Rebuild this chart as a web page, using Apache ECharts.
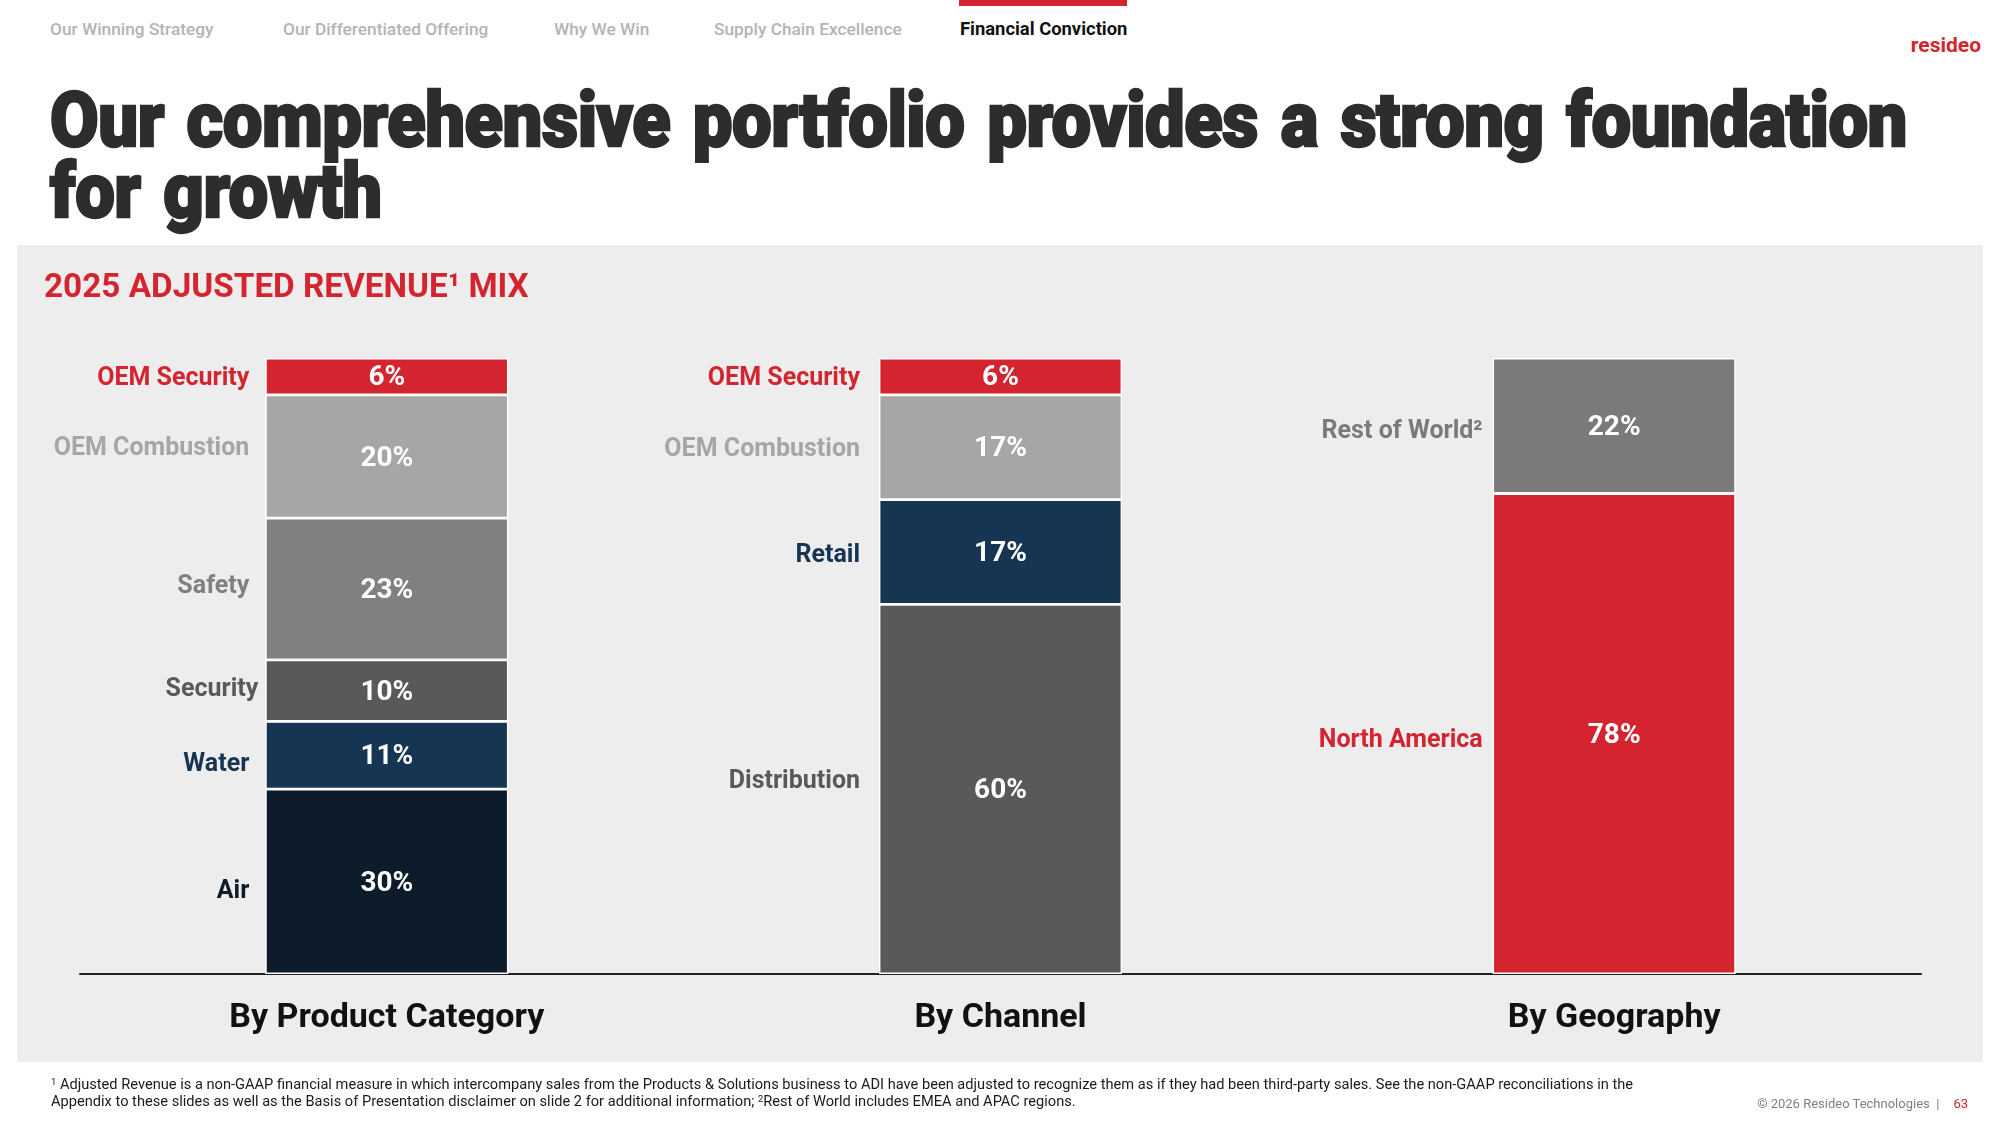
<!DOCTYPE html>
<html>
<head>
<meta charset="utf-8">
<script src="https://cdn.jsdelivr.net/npm/echarts@6/dist/echarts.min.js"></script>
<style>
html,body{margin:0;padding:0;background:#fff;}
body{width:2000px;height:1125px;position:relative;overflow:hidden;font-family:Roboto,"Noto Sans",sans-serif;}
.nav{position:absolute;top:18px;font-size:17.3px;line-height:22px;font-weight:500;color:#b4b4b4;white-space:nowrap;}
.nav.active{color:#111;font-weight:700;font-size:18.4px;top:18px;}
#navbar{position:absolute;left:959px;top:0;width:168px;height:6px;background:#D3242F;}
#logo{position:absolute;right:19px;top:33px;font-size:21px;line-height:24px;font-weight:700;color:#D3242F;}
#title{position:absolute;left:50px;top:85px;font-size:76px;line-height:71px;font-weight:900;color:#2d2d2d;letter-spacing:-0.5px;word-spacing:6px;transform-origin:0 0;white-space:nowrap;-webkit-text-stroke:2.4px #2d2d2d;}
#title span{display:inline-block;}
#panel{position:absolute;left:17px;top:245px;width:1966px;height:817px;background:#EDEDED;}
#chart{position:absolute;left:0;top:0;width:2000px;height:1125px;}
.fn{position:absolute;left:51px;font-size:14px;line-height:17px;color:#1a1a1a;white-space:nowrap;transform-origin:0 0;}
#copy{position:absolute;right:32px;top:1095px;font-size:13px;line-height:17px;color:#808080;white-space:nowrap;}
#copy b{font-weight:400;color:#D3242F;margin-left:14px;}
</style>
</head>
<body>
<div id="navbar"></div>
<div class="nav" style="left:50px">Our Winning Strategy</div>
<div class="nav" style="left:283px">Our Differentiated Offering</div>
<div class="nav" style="left:554px">Why We Win</div>
<div class="nav" style="left:714px">Supply Chain Excellence</div>
<div class="nav active" style="left:960px">Financial Conviction</div>
<div id="logo">resideo</div>
<div id="title"><span id="t1">Our comprehensive portfolio provides a strong foundation</span><br><span id="t2">for growth</span></div>
<div id="panel"></div>
<div id="chart"></div>
<div class="fn" id="fn1" style="top:1076px"><sup style="font-size:9px;vertical-align:4px;line-height:0">1</sup> Adjusted Revenue is a non-GAAP financial measure in which intercompany sales from the Products &amp; Solutions business to ADI have been adjusted to recognize them as if they had been third-party sales. See the non-GAAP reconciliations in the</div>
<div class="fn" id="fn2" style="top:1093px">Appendix to these slides as well as the Basis of Presentation disclaimer on slide 2 for additional information; <sup style="font-size:9px;vertical-align:4px;line-height:0">2</sup>Rest of World includes EMEA and APAC regions.</div>
<div id="copy">© 2026 Resideo Technologies &nbsp;|<b>63</b></div>
<script>
// ---- data ----
const categories = ['By Product Category', 'By Channel', 'By Geography'];
const segmentNames = ['Air', 'Water', 'Security', 'Safety', 'Distribution', 'Retail', 'OEM Combustion', 'OEM Security', 'North America', 'Rest of World²'];
const air           = [30, null, null];
const water         = [11, null, null];
const security      = [10, null, null];
const safety        = [23, null, null];
const distribution  = [null, 60, null];
const retail        = [null, 17, null];
const oemCombustion = [20, 17, null];
const oemSecurity   = [6, 6, null];
const northAmerica  = [null, null, 78];
const restOfWorld   = [null, null, 22];
const segmentValues = [air, water, security, safety, distribution, retail, oemCombustion, oemSecurity, northAmerica, restOfWorld];

// ---- style ----
const segmentColors = ['#0C1C2B', '#163552', '#595959', '#808080', '#595959', '#163552', '#A6A6A6', '#D3242F', '#D3242F', '#7A7A7A'];
const nameGap = [16, 19, 10];
// horizontal / vertical nudges of the side labels (px), per segment and column
const nameDx = [[0, 0, 0], [0, 0, 0], [9, 0, 0], [0, 0, 0], [0, 0, 0], [0, 0, 0], [0, 0, 0], [0, 0, 0], [0, 0, 0], [0, 0, 0]];
const nameDy = [[10, 0, 0], [9, 0, 0], [-1, 0, 0], [-2, 0, 0], [0, -7, 0], [0, 4, 0], [-8, 2, 0], [2, 2, 0], [0, 0, 7], [0, 0, 6]];
const BAR_W = 243;
const FONT = 'Roboto';

const mainSeries = segmentNames.map((name, k) => ({
  type: 'bar', name: name, stack: 'main', xAxisIndex: 0, yAxisIndex: 0,
  barWidth: BAR_W,
  data: segmentValues[k],
  itemStyle: { color: segmentColors[k], borderColor: '#ffffff', borderWidth: 1.4 },
  label: { show: true, position: 'inside', offset: [0, 2], formatter: p => p.value + '%', color: '#ffffff',
           fontSize: 28, fontWeight: 'bold', fontFamily: FONT, textBorderWidth: 0 },
  emphasis: { disabled: true }
}));
const nameSeries = segmentNames.map((name, k) => ({
  type: 'bar', name: name, stack: 'names', xAxisIndex: 1, yAxisIndex: 1,
  barWidth: BAR_W, silent: true,
  data: segmentValues[k].map((v, i) => v == null ? null :
        { value: v, label: { distance: nameGap[i], offset: [nameDx[k][i], nameDy[k][i]] } }),
  itemStyle: { color: 'rgba(0,0,0,0)', borderWidth: 0 },
  label: { show: true, position: 'left', formatter: '{a}', color: segmentColors[k],
           fontSize: 25, fontWeight: 'bold', fontFamily: FONT, textBorderWidth: 0 },
  emphasis: { disabled: true }
}));

const chart = echarts.init(document.getElementById('chart'), null, { renderer: 'canvas', width: 2000, height: 1125 });
chart.setOption({
  backgroundColor: 'transparent',
  animation: false,
  title: { text: '2025 ADJUSTED REVENUE¹ MIX', left: 44, top: 272, padding: 0,
           textStyle: { color: '#D3242F', fontSize: 33.3, fontWeight: 'bold', fontFamily: FONT } },
  tooltip: { show: false },
  legend: { show: false },
  grid: { left: 80, right: 79, top: 358, bottom: 151, containLabel: false },
  xAxis: [
    { type: 'category', data: categories,
      axisLine: { show: true, onZero: false, lineStyle: { color: '#222222', width: 2 } },
      axisTick: { show: false }, splitLine: { show: false },
      axisLabel: { color: '#111111', fontSize: 34, fontWeight: 'bold', fontFamily: FONT, margin: 27 } },
    { type: 'category', data: categories, show: false }
  ],
  yAxis: [
    { type: 'value', min: 0, max: 100, show: false, splitLine: { show: false } },
    { type: 'value', min: 0, max: 100, show: false, splitLine: { show: false } }
  ],
  series: mainSeries.concat(nameSeries)
});

function doFit() {
  const title = document.getElementById('title');
  title.style.transform = 'none';
  const w = document.getElementById('t1').getBoundingClientRect().width;
  title.style.transform = 'scaleX(' + (1857 / w) + ')';
  const f1 = document.getElementById('fn1'), f2 = document.getElementById('fn2');
  f1.style.transform = 'none'; f2.style.transform = 'none';
  const sf = 1582 / f1.getBoundingClientRect().width;
  f1.style.transform = 'scaleX(' + sf + ')';
  f2.style.transform = 'scaleX(' + sf + ')';
}
doFit();
if (document.fonts && document.fonts.ready) document.fonts.ready.then(doFit);
</script>
</body>
</html>
